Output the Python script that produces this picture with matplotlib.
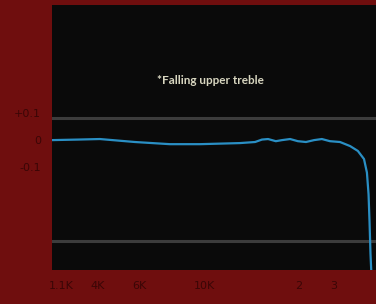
import matplotlib
matplotlib.use("Agg")
import matplotlib.pyplot as plt

# Response curve (x in % of plot width, y deviation)
x_pos = [0, 8, 14.8, 25.6, 36.4, 45.7, 58, 62.7, 64.8, 66.7, 69.1, 71, 73.5, 75.9, 78.4, 80.9, 83.3,
         85.8, 88.9, 92, 94.4, 96.3, 97.2, 97.7, 98.0, 98.3, 98.6]
y_val = [0.0, 0.002, 0.004, -0.007, -0.015, -0.015, -0.011, -0.007, 0.002, 0.004, -0.004, 0.0, 0.004,
         -0.004, -0.007, 0.0, 0.004, -0.004, -0.007, -0.022, -0.04, -0.07, -0.12, -0.2, -0.3, -0.42, -0.5]

x_tick_pos = [3, 14, 27, 47, 76, 87]
x_tick_labels = ["1.1K", "4K", "6K", "10K", "2", "3"]
y_tick_pos = [0.1, 0.0, -0.1]
y_tick_labels = ["+0.1", "0", "-0.1"]
ref_lines = [0.081, -0.374]
annotation = "*Falling upper treble"

fig = plt.figure(figsize=(3.76, 3.04), dpi=100)
fig.patch.set_facecolor("#6f0e0e")
ax = fig.add_axes([0.138, 0.112, 0.862, 0.872])
ax.set_facecolor("#0a0a0a")

for r in ref_lines:
    ax.axhline(r, color="#3c3c3c", lw=2.2)

ax.plot(x_pos, y_val, color="#2a8fc4", lw=1.6)

ax.set_xlim(0, 100)
ax.set_ylim(-0.48, 0.5)
ax.set_xticks(x_tick_pos)
ax.set_xticklabels(x_tick_labels, color="#3a0606", fontsize=8)
ax.set_yticks(y_tick_pos)
ax.set_yticklabels(y_tick_labels, color="#3a0606", fontsize=8)
ax.tick_params(length=0, pad=8)
for s in ax.spines.values():
    s.set_visible(False)

ax.text(49, 0.22, annotation, color="#d8d6c0", fontsize=8.5, ha="center", va="center",
        family="Lato", fontweight="bold")

fig.savefig("out.png", dpi=100, facecolor=fig.get_facecolor())
